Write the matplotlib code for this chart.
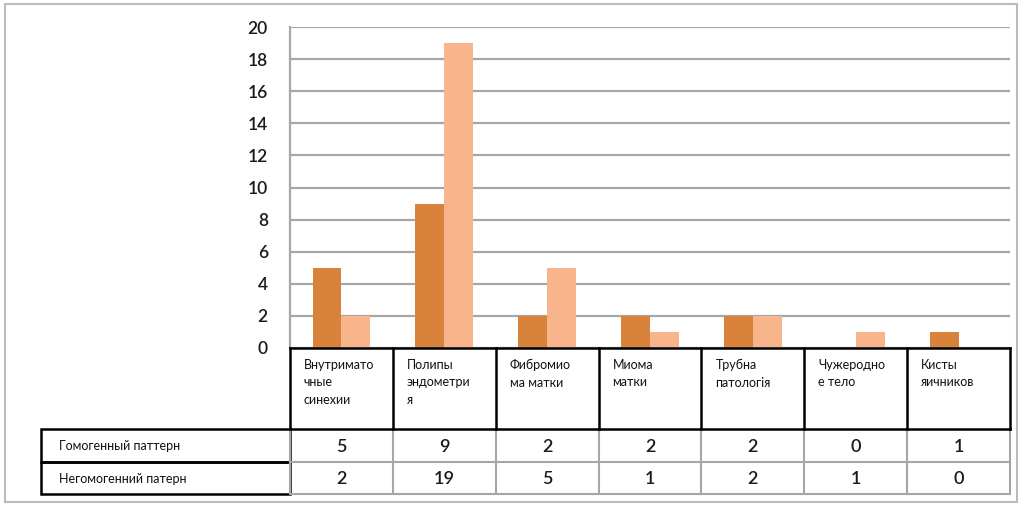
import matplotlib
matplotlib.use("Agg")
import matplotlib.pyplot as plt
from matplotlib.patches import Rectangle
from matplotlib.lines import Line2D

categories = ["Внутримато\nчные\nсинехии", "Полипы\nэндометри\nя", "Фибромио\nма матки",
              "Миома\nматки", "Трубна\nпатологія", "Чужеродно\nе тело", "Кисты\nяичников"]
series_names = ["Гомогенный паттерн", "Негомогенний патерн"]
homogeneous = [5, 9, 2, 2, 2, 0, 1]
heterogeneous = [2, 19, 5, 1, 2, 1, 0]
yticks = [0, 2, 4, 6, 8, 10, 12, 14, 16, 18, 20]

c_dark = "#D8823B"
c_light = "#F8B48B"
grid_c = "#A6A6A6"

W, H = 1024, 507
fig = plt.figure(figsize=(W / 100, H / 100), dpi=100)
plt.rcParams['font.family'] = ['Lato', 'DejaVu Sans']

def fx(px):
    return px / W

def fy(py):
    return 1 - py / H

ax_l, ax_r, ax_t, ax_b = 290, 1010, 27, 348
ax = fig.add_axes([fx(ax_l), fy(ax_b), fx(ax_r - ax_l), fy(ax_t) - fy(ax_b)])
n = len(categories)
bw = 0.28
xs = list(range(n))
ax.bar([x - bw / 2 for x in xs], homogeneous, width=bw, color=c_dark, zorder=3)
ax.bar([x + bw / 2 for x in xs], heterogeneous, width=bw, color=c_light, zorder=3)
ax.set_xlim(-0.5, n - 0.5)
ax.set_ylim(0, 20)
ax.set_yticks(yticks)
ax.set_yticklabels([str(t) for t in yticks], fontsize=12.5, color="#1a1a1a", fontweight="semibold")
ax.tick_params(axis='y', length=0, pad=16)
ax.set_xticks([])
for t in yticks:
    ax.axhline(t, color=grid_c, lw=1.6, zorder=1)
for s in ["top", "right", "bottom"]:
    ax.spines[s].set_visible(False)
ax.spines["left"].set_color(grid_c)
ax.spines["left"].set_linewidth(1.6)

# overlay in pixel coordinates for table and frame
ov = fig.add_axes([0, 0, 1, 1], zorder=5)
ov.set_xlim(0, W)
ov.set_ylim(H, 0)
ov.axis("off")
ov.patch.set_alpha(0)

# outer frame
ov.add_patch(Rectangle((5, 4), 1012, 498, fill=False, ec="#BBBBBB", lw=1.5))

colw = (ax_r - ax_l) / n
hdr_t, hdr_b = 348, 429
r1_b, r2_b = 462, 494
lab_l = 41

# value row grid (gray)
for i in range(n + 1):
    x = ax_l + i * colw
    ov.add_line(Line2D([x, x], [hdr_b, r2_b], color=grid_c, lw=1.5))
for y in [r1_b, r2_b]:
    ov.add_line(Line2D([ax_l, ax_r], [y, y], color=grid_c, lw=1.5))

# header row (black)
for i in range(n + 1):
    x = ax_l + i * colw
    ov.add_line(Line2D([x, x], [hdr_t, hdr_b], color="black", lw=1.8))
for y in [hdr_t, hdr_b]:
    ov.add_line(Line2D([ax_l, ax_r], [y, y], color="black", lw=1.8))

# row label cells (black)
ov.add_patch(Rectangle((lab_l, hdr_b), ax_l - lab_l, r1_b - hdr_b, fill=False, ec="black", lw=1.8))
ov.add_patch(Rectangle((lab_l, r1_b), ax_l - lab_l, r2_b - r1_b, fill=False, ec="black", lw=1.8))

for i, cat in enumerate(categories):
    x0 = ax_l + i * colw
    ov.text(x0 + 14, 359, cat, ha="left", va="top", fontsize=9, linespacing=1.55, color="#111111")
    ov.text(x0 + colw / 2, (hdr_b + r1_b) / 2 + 1, str(homogeneous[i]), ha="center", va="center",
            fontsize=13, color="#1a1a1a", fontweight="semibold")
    ov.text(x0 + colw / 2, (r1_b + r2_b) / 2 + 1, str(heterogeneous[i]), ha="center", va="center",
            fontsize=13, color="#1a1a1a", fontweight="semibold")

ov.text(lab_l + 18, (hdr_b + r1_b) / 2 + 1, series_names[0], ha="left", va="center", fontsize=9, color="#111111")
ov.text(lab_l + 18, (r1_b + r2_b) / 2 + 1, series_names[1], ha="left", va="center", fontsize=9, color="#111111")

fig.savefig("out.png", dpi=100)
